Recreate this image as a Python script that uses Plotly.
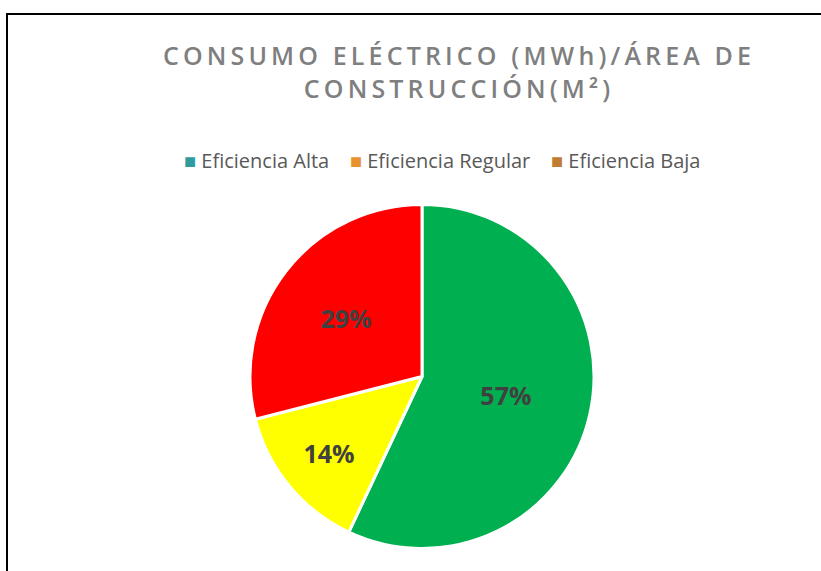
import plotly.graph_objects as go

LABELS = ['Eficiencia Alta', 'Eficiencia Regular', 'Eficiencia Baja']
VALUES = [57, 14, 29]
SLICE_COLORS = ['#00B050', '#FFFF00', '#FF0000']
LEGEND_COLORS = ['#2E9C9E', '#E8912F', '#C07B35']

TITLE = 'CONSUMO ELÉCTRICO (MWh)/ÁREA DE<br>CONSTRUCCIÓN(M²)'

W, H = 821, 571


def spaced(s, gap='\u2009'):
    """Fake letter-spacing by putting thin spaces between characters."""
    out = []
    for part in s.split('<br>'):
        out.append(gap.join(part))
    return '<br>'.join(out)


fig = go.Figure()
fig.add_trace(go.Pie(
    labels=LABELS,
    values=VALUES,
    sort=False,
    direction='clockwise',
    rotation=0,
    marker=dict(colors=SLICE_COLORS, line=dict(color='white', width=3)),
    texttemplate='%{percent:.0%}',
    textposition='inside',
    insidetextorientation='horizontal',
    textfont=dict(family='Open Sans', size=25, color='#404040', weight='bold'),
    showlegend=False,
    domain=dict(x=[250 / W, 594 / W], y=[(H - 549) / H, (H - 204) / H]),
))

# legend drawn as text so the swatch colours can differ from the slices
legend_txt = '    '.join(
    f"<span style='color:{c}'>■</span> {lab}"
    for lab, c in zip(LABELS, LEGEND_COLORS)
)

fig.update_layout(
    width=W, height=H,
    margin=dict(l=0, r=0, t=0, b=0),
    paper_bgcolor='white',
    title=dict(
        text=spaced(TITLE),
        x=457 / W, xanchor='center',
        y=1 - 65 / H, yanchor='top',
        font=dict(family='Open Sans', size=25, color='#7F7F7F', weight=600),
    ),
    annotations=[dict(
        text=legend_txt,
        x=442 / W, y=1 - 160 / H,
        xref='paper', yref='paper',
        xanchor='center', yanchor='middle',
        showarrow=False,
        font=dict(family='Open Sans', size=20, color='#595959'),
    )],
    shapes=[dict(
        type='rect', xref='paper', yref='paper',
        x0=7 / W, x1=1.02, y0=-0.02, y1=1 - 14 / H,
        line=dict(color='black', width=2),
    )],
)

fig.write_html('out.html', config={'displayModeBar': False},
               post_script="document.body.style.margin='0';")
